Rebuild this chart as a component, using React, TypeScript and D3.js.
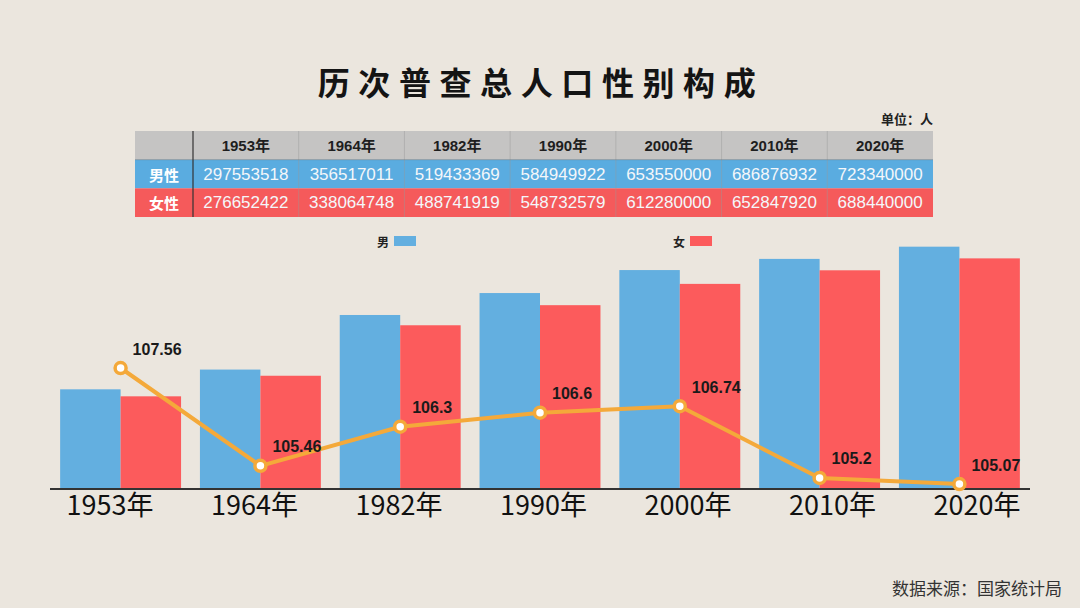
import React from 'react';
import * as d3 from 'd3';

const years = ['1953', '1964', '1982', '1990', '2000', '2010', '2020'];
const male = [297553518, 356517011, 519433369, 584949922, 653550000, 686876932, 723340000];
const female = [276652422, 338064748, 488741919, 548732579, 612280000, 652847920, 688440000];
const sexRatio = [107.56, 105.46, 106.3, 106.6, 106.74, 105.2, 105.07];
const seriesNames = ['男', '女'];
const rowNames = ['男性', '女性'];
const title = '历次普查总人口性别构成';
const unitText = '单位：人';
const sourceText = '数据来源：国家统计局';

const W = 1080;
const H = 608;
const BG = '#ebe6de';
const BLUE = '#63afe0';
const RED = '#fc5b5c';
const ROW_BLUE = '#5aace0';
const ROW_RED = '#f55a5b';
const HEAD_GRAY = '#c5c4c3';
const ORANGE = '#f4a93a';
const CJK = '"Noto Sans CJK SC", "Noto Sans", sans-serif';
const LAT = '"Liberation Sans", Arial, sans-serif';
const MIX = '"Liberation Sans", "Noto Sans CJK SC", sans-serif';

export default function App() {
  const baseline = 489;
  const x = d3.scaleBand<string>().domain(years).range([50, 1030]).paddingInner(0.135).paddingOuter(0.0725);
  const xs = d3.scaleBand<string>().domain(seriesNames).range([0, x.bandwidth()]);
  const y = d3.scaleLinear().domain([0, 800e6]).range([baseline, 221]);
  const yLine = d3.scaleLinear().domain([104, 109]).range([533.9, 300.9]);
  const xLabel = d3.scalePoint<string>().domain(years).range([110, 977]);

  const linePts: [number, number][] = years.map((yr, i) => [
    (x(yr) as number) + x.bandwidth() / 2,
    yLine(sexRatio[i]),
  ]);
  const lineGen = d3.line();

  // table
  const tLeft = 135;
  const tRight = 933;
  const firstColW = 58;
  const colX = d3.scaleBand<string>().domain(years).range([tLeft + firstColW, tRight]);
  const rowY = d3.scaleBand<string>().domain(['head', ...rowNames]).range([131, 217]);
  const rowH = rowY.bandwidth();
  const tableRows = [male, female];
  const rowFill = [ROW_BLUE, ROW_RED];

  const legendItems = [
    { name: seriesNames[0], color: BLUE, x: 377 },
    { name: seriesNames[1], color: RED, x: 673 },
  ];

  return (
    <svg width={W} height={H} style={{ position: 'absolute', left: 0, top: 0, display: 'block' }}>
      <rect x={0} y={0} width={W} height={H} fill={BG} />
      <text x={541} y={81} textAnchor="middle" dominantBaseline="central" fontFamily={CJK} fontWeight={700}
        fontSize={32} letterSpacing={8.6} fill="#141414">{title}</text>
      <text x={933} y={118} textAnchor="end" dominantBaseline="central" fontFamily={CJK} fontWeight={700}
        fontSize={13} fill="#222">{unitText}</text>

      {/* table */}
      <g>
        <rect x={tLeft} y={rowY('head')} width={tRight - tLeft} height={rowH} fill={HEAD_GRAY} />
        {rowNames.map((rn, ri) => (
          <rect key={rn} x={tLeft} y={rowY(rn)} width={tRight - tLeft} height={rowH} fill={rowFill[ri]} />
        ))}
        {years.map((yr, i) => i > 0 ? (
          <line key={yr} x1={colX(yr)} x2={colX(yr)} y1={131} y2={217} stroke="#9a9a9a" strokeOpacity={0.45} strokeWidth={1} />
        ) : null)}
        <line x1={tLeft} x2={tRight} y1={rowY(rowNames[0])} y2={rowY(rowNames[0])} stroke="#777" strokeOpacity={0.5} />
        <line x1={tLeft + firstColW} x2={tLeft + firstColW} y1={131} y2={217} stroke="#333" strokeWidth={1.2} />
        {years.map((yr) => (
          <text key={yr} x={(colX(yr) as number) + colX.bandwidth() / 2} y={(rowY('head') as number) + rowH / 2}
            textAnchor="middle" dominantBaseline="central" fontFamily={MIX} fontWeight={700} fontSize={15} fill="#1e1e1e">
            {yr + '年'}
          </text>
        ))}
        {rowNames.map((rn, ri) => (
          <g key={rn}>
            <text x={tLeft + firstColW / 2} y={(rowY(rn) as number) + rowH / 2} textAnchor="middle" dominantBaseline="central"
              fontFamily={CJK} fontWeight={700} fontSize={15} fill="#fff">{rn}</text>
            {years.map((yr, i) => (
              <text key={yr} x={(colX(yr) as number) + colX.bandwidth() / 2} y={(rowY(rn) as number) + rowH / 2}
                textAnchor="middle" dominantBaseline="central" fontFamily={LAT} fontSize={17} fill="#f4f7fa">
                {String(tableRows[ri][i])}
              </text>
            ))}
          </g>
        ))}
      </g>

      {/* legend */}
      {legendItems.map((it) => (
        <g key={it.name}>
          <text x={it.x} y={241} dominantBaseline="central" fontFamily={CJK} fontWeight={700} fontSize={12} fill="#222">{it.name}</text>
          <rect x={it.x + 17} y={236} width={22} height={10} fill={it.color} />
        </g>
      ))}

      {/* bars */}
      {years.map((yr, i) => (
        <g key={yr} transform={`translate(${x(yr)},0)`}>
          <rect x={xs(seriesNames[0])} y={y(male[i])} width={xs.bandwidth()} height={baseline - y(male[i])} fill={BLUE} />
          <rect x={xs(seriesNames[1])} y={y(female[i])} width={xs.bandwidth()} height={baseline - y(female[i])} fill={RED} />
        </g>
      ))}

      {/* axis */}
      <line x1={50} x2={1030} y1={baseline} y2={baseline} stroke="#333" strokeWidth={2} />
      {years.map((yr) => (
        <text key={yr} x={xLabel(yr)} y={503} textAnchor="middle" dominantBaseline="central" fontFamily={CJK}
          fontSize={27} fill="#111">{yr + '年'}</text>
      ))}

      {/* line */}
      <path d={lineGen(linePts) || ''} fill="none" stroke={ORANGE} strokeWidth={4} strokeLinejoin="round" />
      {linePts.map((p, i) => (
        <g key={i}>
          <circle cx={p[0]} cy={p[1]} r={5.5} fill="#fff" stroke={ORANGE} strokeWidth={3.5} />
          <text x={p[0] + 12} y={p[1] - 19} dominantBaseline="central" fontFamily={LAT} fontWeight={700}
            fontSize={16} fill="#1a1a1a">{String(sexRatio[i])}</text>
        </g>
      ))}

      <text x={1062} y={587} textAnchor="end" dominantBaseline="central" fontFamily={CJK} fontSize={17} fill="#333">{sourceText}</text>
    </svg>
  );
}
